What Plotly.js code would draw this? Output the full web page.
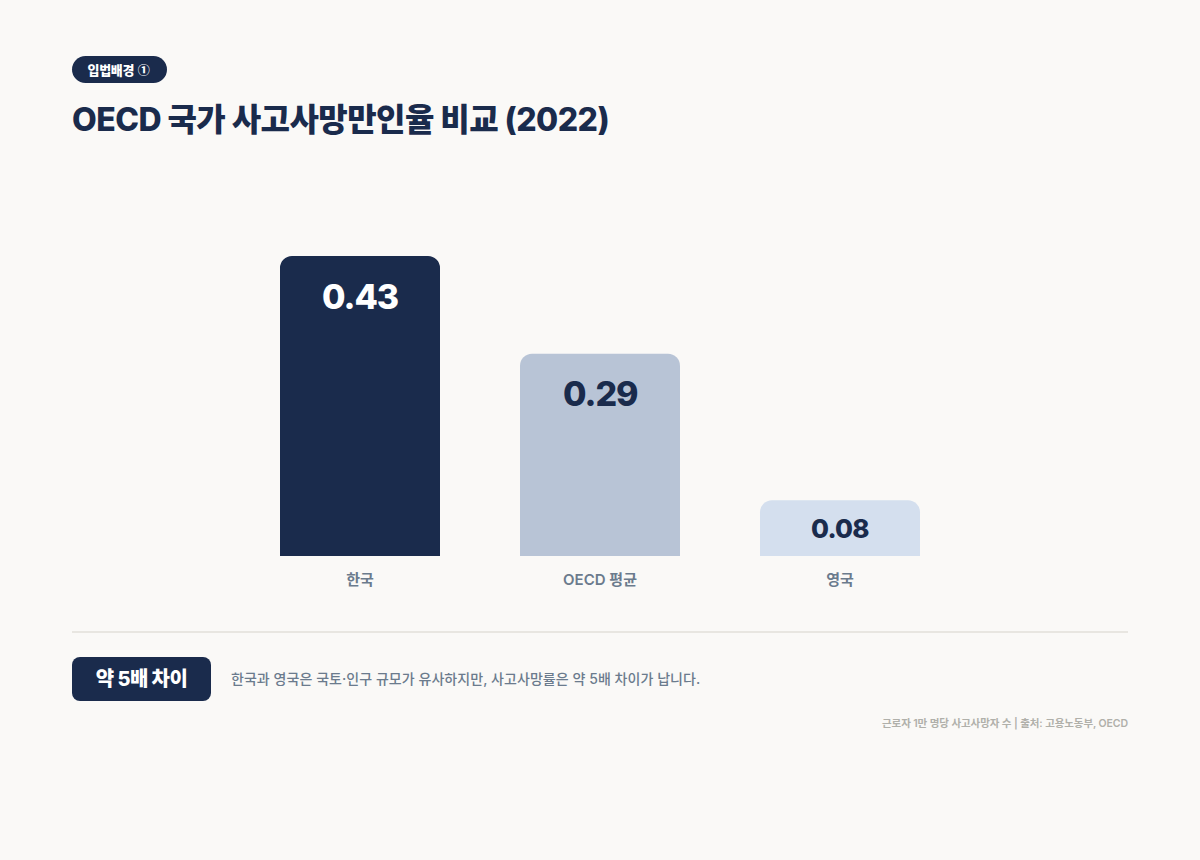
<!DOCTYPE html>
<html lang="ko">
<head>
<meta charset="utf-8">
<script src="https://cdn.plot.ly/plotly-3.0.1.min.js"></script>
<style>
html,body{margin:0;padding:0;background:#faf9f7;width:1200px;height:860px;overflow:hidden}
body{font-family:Inter,"Noto Sans CJK KR",sans-serif;position:relative}
#chart{position:absolute;left:0;top:0;width:1200px;height:860px}
.abs{position:absolute;white-space:nowrap}
#pill{left:72px;top:56px;width:79.5px;padding-left:15.5px;height:27px;border-radius:14px;background:#1a2b4c;color:#fff;font-size:13px;font-weight:800;letter-spacing:-0.3px;line-height:27px;text-align:left}
#pill span{font-family:"Noto Sans CJK KR",sans-serif;font-size:12px;font-weight:900;margin-left:1px}
#rule{left:72px;top:631px;width:1056px;height:2px;background:#e8e6e1}
#badge{left:72px;top:657px;width:139px;height:44px;border-radius:8px;background:#1a2b4c;color:#fff;font-size:20px;font-weight:800;letter-spacing:-0.55px;line-height:44px;text-align:center}
#note{left:231px;top:669px;font-size:14px;font-weight:500;letter-spacing:0.05px;line-height:20px;color:#6b7b8d}
#src{right:72px;top:716px;font-size:10.5px;font-weight:600;letter-spacing:-0.09px;line-height:15px;color:#b0b0aa}
.gtitle{letter-spacing:-0.55px}
.annotation-text{letter-spacing:-0.03em}
</style>
</head>
<body>
<div id="chart"></div>
<div class="abs" id="pill">입법배경 <span>①</span></div>
<div class="abs" id="rule"></div>
<div class="abs" id="badge">약 5배 차이</div>
<div class="abs" id="note">한국과 영국은 국토·인구 규모가 유사하지만, 사고사망률은 약 5배 차이가 납니다.</div>
<div class="abs" id="src">근로자 1만 명당 사고사망자 수 | 출처: 고용노동부, OECD</div>
<script>
const categories = ["한국", "OECD 평균", "영국"];
const values = [0.43, 0.29, 0.08];
const valueLabels = ["0.43", "0.29", "0.08"];
const barColors = ["#1a2b4c", "#b8c4d6", "#d4dfee"];
const labelColors = ["#ffffff", "#1a2b4c", "#1a2b4c"];
const labelSizes = [34, 34, 26];
const labelOffsets = [-41, -40, -28];
const titleText = "OECD 국가 사고사망만인율 비교 (2022)";
const fontFamily = 'Inter, "Noto Sans CJK KR", sans-serif';

Plotly.newPlot("chart", [{
  type: "bar",
  x: categories,
  y: values,
  marker: {color: barColors, line: {width: 0}},
  hoverinfo: "skip"
}], {
  width: 1200,
  height: 860,
  paper_bgcolor: "#faf9f7",
  plot_bgcolor: "#faf9f7",
  showlegend: false,
  font: {family: fontFamily},
  title: {
    text: titleText,
    font: {family: fontFamily, size: 32, color: "#1a2b4c", weight: 800},
    x: 72 / 1200, xanchor: "left",
    y: 1 - 120 / 860, yanchor: "middle"
  },
  margin: {l: 240, r: 240, t: 156, b: 304, pad: 0},
  bargap: 1 / 3,
  barcornerradius: 12,
  xaxis: {
    type: "category",
    showgrid: false, showline: false, zeroline: false,
    ticks: "outside", ticklen: 10, tickcolor: "rgba(0,0,0,0)",
    tickfont: {family: fontFamily, size: 15, color: "#6b7b8d", weight: 600},
    automargin: false, fixedrange: true
  },
  yaxis: {
    range: [0, 0.5733],
    visible: false, showgrid: false, zeroline: false, fixedrange: true
  },
  annotations: categories.map((c, i) => ({
    x: c, y: values[i], xref: "x", yref: "y",
    yshift: labelOffsets[i], yanchor: "middle", xanchor: "center",
    showarrow: false,
    text: valueLabels[i],
    font: {family: fontFamily, size: labelSizes[i], color: labelColors[i], weight: 800}
  }))
}, {displayModeBar: false, staticPlot: true});
</script>
</body>
</html>
